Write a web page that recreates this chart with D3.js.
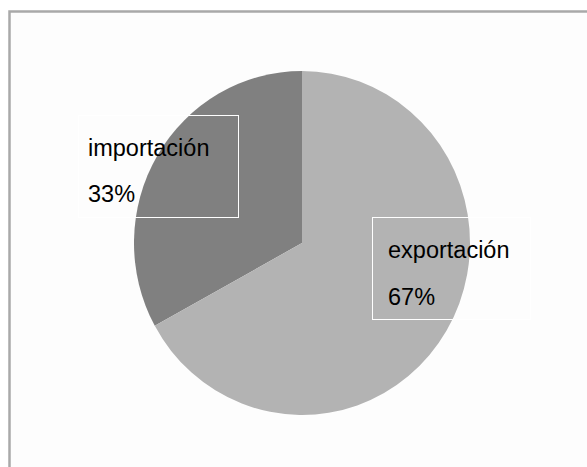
<!DOCTYPE html>
<html><head><meta charset="utf-8">
<script src="https://cdn.jsdelivr.net/npm/d3@7"></script>
<style>html,body{margin:0;padding:0;background:#fff;}svg{display:block;}</style>
</head><body>
<svg id="c" width="587" height="467"></svg>
<script>
const categories = ["importación", "exportación"];
const values = [33, 67];
const percentLabels = ["33%", "67%"];
const colors = ["#808080", "#b3b3b3"];

const svg = d3.select("#c");
// frame
svg.append("rect").attr("x", 9.5).attr("y", 11.5).attr("width", 600).attr("height", 500)
  .attr("fill", "#fdfdfd").attr("stroke", "#a9a9a9").attr("stroke-width", 2.5);

const cx = 302, cy = 243, r = 168, sy = 172 / 168;
const pie = d3.pie().sort(null).value(d => d.v).startAngle(0).endAngle(-2 * Math.PI);
const data = categories.map((c, i) => ({c, v: values[i], col: colors[i], p: percentLabels[i]}));
const arcs = pie(data);
const arc = d3.arc().innerRadius(0).outerRadius(r);
const g = svg.append("g").attr("transform", `translate(${cx},${cy}) scale(1,${sy})`);
g.selectAll("path").data(arcs).enter().append("path")
  .attr("d", arc).attr("fill", d => d.data.col);

// label boxes and text
const boxes = [
  {x: 78, y: 115, w: 160, h: 102, tx: 88, t1: 156, t2: 202},
  {x: 372, y: 217, w: 158, h: 102, tx: 388, t1: 258, t2: 305}
];
arcs.forEach((a, i) => {
  const b = boxes[i];
  svg.append("rect").attr("x", b.x + 0.5).attr("y", b.y + 0.5).attr("width", b.w).attr("height", b.h)
    .attr("fill", "none").attr("stroke", "#ffffff").attr("stroke-width", 1);
  svg.append("text").attr("x", b.tx).attr("y", b.t1).text(a.data.c)
    .attr("font-family", "Liberation Sans, Arial, sans-serif").attr("font-size", 23.5).attr("fill", "#000");
  svg.append("text").attr("x", b.tx).attr("y", b.t2).text(a.data.p)
    .attr("font-family", "Liberation Sans, Arial, sans-serif").attr("font-size", 23.5).attr("fill", "#000");
});
</script>
</body></html>
